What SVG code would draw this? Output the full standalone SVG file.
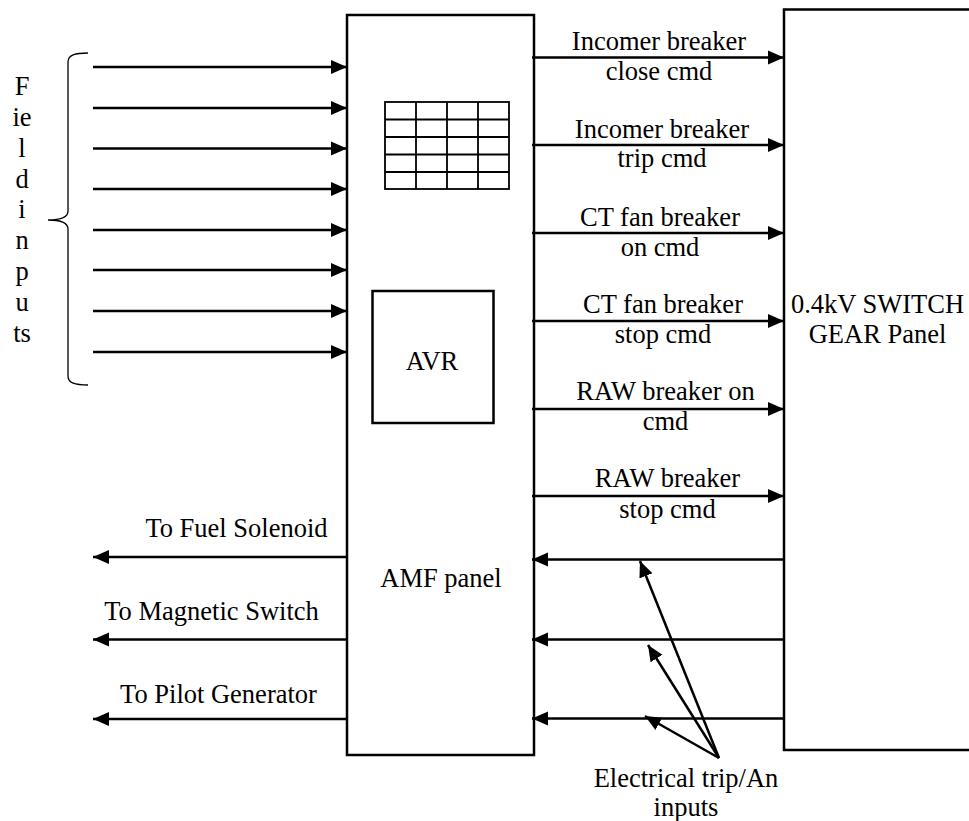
<svg xmlns="http://www.w3.org/2000/svg" width="969" height="821" viewBox="0 0 969 821">
<style>
text{font-family:"Liberation Serif","Times New Roman",serif;font-size:26.5px;fill:#000;text-anchor:middle}
.box{fill:#fff;stroke:#000;stroke-width:2.5}
.grid{fill:none;stroke:#000;stroke-width:1.8}
.conn line{stroke:#000;stroke-width:2.5;marker-end:url(#ah)}
.brace{fill:none;stroke:#000;stroke-width:1.3}
</style>
<defs>
<marker id="ah" markerUnits="userSpaceOnUse" markerWidth="17" markerHeight="15" refX="16" refY="7" orient="auto" viewBox="0 0 17 14">
<path d="M0,0 L16,7 L0,14 z" fill="#000"/>
</marker>
</defs>
<rect width="969" height="821" fill="#fff"/>

<g id="amf-panel">
<rect class="box" x="347" y="15" width="187" height="740"/>
<text x="441" y="587">AMF panel</text>
</g>

<g id="display-grid">
<rect class="grid" x="385" y="102" width="124" height="87"/>
<path class="grid" d="M385,119.5 H509 M385,137 H509 M385,154.5 H509 M385,172 H509 M416,102 V189 M447,102 V189 M478,102 V189"/>
</g>

<g id="avr">
<rect class="box" x="372.5" y="291" width="121" height="132"/>
<text x="432" y="370">AVR</text>
</g>

<g id="switchgear">
<path class="box" d="M972,9.5 H784 V750 H972"/>
<text x="877.5" y="313">0.4kV SWITCH</text>
<text x="877.5" y="343">GEAR Panel</text>
</g>

<g id="field-inputs">
<path class="brace" d="M88,53 C75,53 68,55 68,62 V211 C68,217 62,220 48,220 C62,220 68,223 68,229 V376 C68,383 75,385 88,385"/>
<text x="22" y="95">F</text>
<text x="22" y="126">ie</text>
<text x="22" y="157">l</text>
<text x="22" y="188">d</text>
<text x="22" y="218">i</text>
<text x="22" y="249">n</text>
<text x="22" y="280">p</text>
<text x="22" y="311">u</text>
<text x="22" y="342">ts</text>
</g>

<g id="labels">
<text x="659" y="50">Incomer breaker</text>
<text x="659" y="80">close cmd</text>
<text x="662" y="138">Incomer breaker</text>
<text x="662" y="167">trip cmd</text>
<text x="660" y="226">CT fan breaker</text>
<text x="660" y="256">on cmd</text>
<text x="663" y="313">CT fan breaker</text>
<text x="663" y="343">stop cmd</text>
<text x="665.5" y="400">RAW breaker on</text>
<text x="665.5" y="430">cmd</text>
<text x="667.5" y="487">RAW breaker</text>
<text x="667.5" y="518">stop cmd</text>
<text x="236.5" y="537">To Fuel Solenoid</text>
<text x="211.5" y="620">To Magnetic Switch</text>
<text x="218.5" y="703">To Pilot Generator</text>
<text x="686" y="787">Electrical trip/An</text>
<text x="686" y="816">inputs</text>
</g>

<g id="connectors" class="conn">
<line x1="93" y1="67" x2="347" y2="67"/>
<line x1="93" y1="108" x2="347" y2="108"/>
<line x1="93" y1="148.5" x2="347" y2="148.5"/>
<line x1="93" y1="189" x2="347" y2="189"/>
<line x1="93" y1="230" x2="347" y2="230"/>
<line x1="93" y1="270" x2="347" y2="270"/>
<line x1="93" y1="311" x2="347" y2="311"/>
<line x1="93" y1="352" x2="347" y2="352"/>

<line x1="532" y1="57.5" x2="784" y2="57.5"/>
<line x1="532" y1="145" x2="784" y2="145"/>
<line x1="532" y1="233" x2="784" y2="233"/>
<line x1="532" y1="321" x2="784" y2="321"/>
<line x1="532" y1="409" x2="784" y2="409"/>
<line x1="532" y1="496" x2="784" y2="496"/>

<line x1="784" y1="559.5" x2="532" y2="559.5"/>
<line x1="784" y1="639.5" x2="532" y2="639.5"/>
<line x1="784" y1="718.5" x2="532" y2="718.5"/>

<line x1="347" y1="557" x2="93" y2="557"/>
<line x1="347" y1="639.5" x2="93" y2="639.5"/>
<line x1="347" y1="719" x2="93" y2="719"/>

<line x1="719" y1="758" x2="640" y2="561"/>
<line x1="719" y1="758" x2="648" y2="645"/>
<line x1="719" y1="758" x2="645" y2="716"/>
</g>
</svg>
